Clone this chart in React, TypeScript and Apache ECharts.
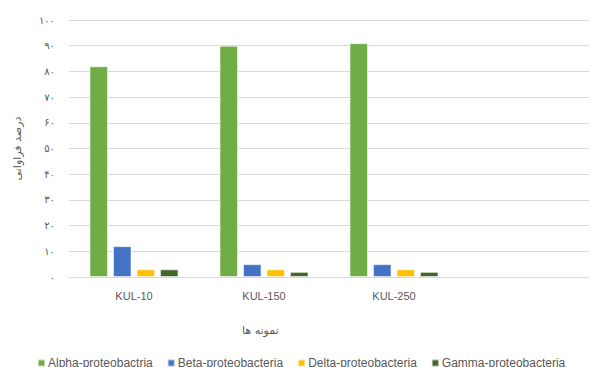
import React, { useEffect, useRef } from "react";
import * as echarts from "echarts";

const categories = ["KUL-10", "KUL-150", "KUL-250", ""];
const seriesNames = [
  "Alpha-proteobactria",
  "Beta-proteobacteria",
  "Delta-proteobacteria",
  "Gamma-proteobacteria",
];
const alphaValues = [82, 90, 91, null];
const betaValues = [12, 5, 5, null];
const deltaValues = [3, 3, 3, null];
const gammaValues = [3, 2, 2, null];
const yTickLabels = ["۰", "۱۰", "۲۰", "۳۰", "۴۰", "۵۰", "۶۰", "۷۰", "۸۰", "۹۰", "۱۰۰"];
const yAxisTitle = "درصد فراوانی";
const xAxisTitle = "نمونه ها";
const colors = ["#70AD47", "#4472C4", "#FFC000", "#43682B"];

const FONT = "'Liberation Sans', 'DejaVu Sans', sans-serif";

export default function App() {
  const ref = useRef<HTMLDivElement>(null);
  useEffect(() => {
    if (!ref.current) return;
    const chart = echarts.init(ref.current, undefined, { renderer: "svg" });
    const allValues = [alphaValues, betaValues, deltaValues, gammaValues];
    chart.setOption({
      animation: false,
      backgroundColor: "#ffffff",
      color: colors,
      textStyle: { fontFamily: FONT },
      grid: { left: 69, right: -9, top: 20, bottom: 90 },
      legend: {
        data: seriesNames,
        left: 37,
        top: 357,
        width: 560,
        padding: 0,
        itemWidth: 7,
        itemHeight: 7,
        itemGap: 14,
        icon: "rect",
        textStyle: { fontSize: 12, color: "#595959", fontFamily: FONT, padding: [0, 0, 0, -2] },
      },
      xAxis: {
        type: "category",
        data: categories,
        axisLine: { show: true, lineStyle: { color: "#d9d9d9", width: 1 } },
        axisTick: { show: false },
        axisLabel: { fontSize: 11, color: "#595959", margin: 13, fontFamily: FONT },
      },
      yAxis: {
        type: "value",
        min: 0,
        max: 100,
        interval: 10,
        name: yAxisTitle,
        nameLocation: "middle",
        nameRotate: 90,
        nameGap: 46,
        nameTextStyle: { fontSize: 11, color: "#595959", fontFamily: "'DejaVu Sans', sans-serif" },
        axisLine: { show: false },
        axisTick: { show: false },
        splitLine: { lineStyle: { color: "#d9d9d9", width: 1 } },
        axisLabel: {
          fontSize: 10,
          color: "#595959",
          margin: 14,
          fontFamily: "'DejaVu Sans', sans-serif",
          formatter: (v: number) => yTickLabels[Math.round(v / 10)] ?? "",
        },
      },
      graphic: [
        {
          type: "text",
          left: 242,
          top: 325,
          style: {
            text: xAxisTitle,
            fontSize: 11,
            fill: "#595959",
            fontFamily: "'DejaVu Sans', sans-serif",
          },
        },
      ],
      series: seriesNames.map((name, i) => ({
        name,
        type: "bar",
        data: allValues[i],
        barWidth: 18.5,
        barGap: "27%",
        itemStyle: {
          color: colors[i],
          borderColor: "rgba(255,255,255,0.55)",
          borderWidth: 1,
        },
      })),
    });
    return () => chart.dispose();
  }, []);
  return (
    <div
      ref={ref}
      style={{ position: "fixed", left: 0, top: 0, width: 589, height: 367 }}
    />
  );
}
